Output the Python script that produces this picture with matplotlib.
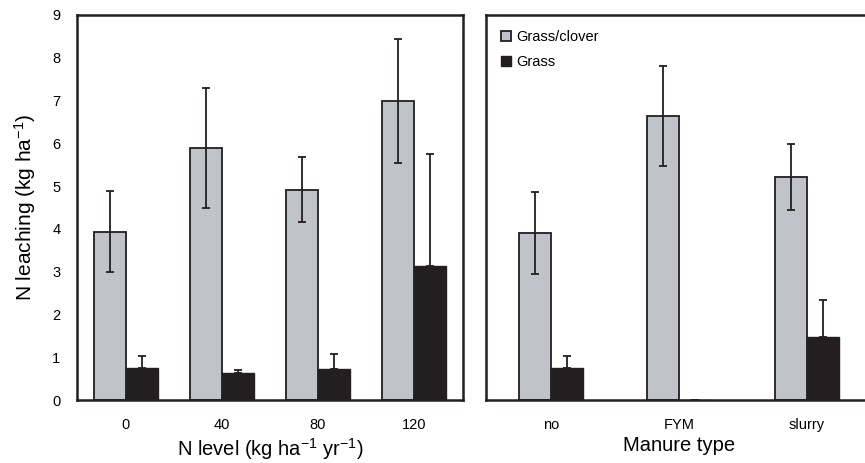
import numpy as np
import matplotlib
matplotlib.use("Agg")
import matplotlib.pyplot as plt

plt.rcParams['font.family'] = ['Liberation Sans', 'DejaVu Sans']
plt.rcParams['mathtext.default'] = 'regular'

# left panel: N level
n_levels = ['0', '40', '80', '120']
clover_n = [3.93, 5.89, 4.91, 6.99]
clover_n_err = [0.95, 1.40, 0.76, 1.45]
grass_n = [0.74, 0.62, 0.72, 3.13]
grass_n_err = [0.29, 0.08, 0.35, 2.62]

# right panel: manure type
manure = ['no', 'FYM', 'slurry']
clover_m = [3.90, 6.64, 5.21]
clover_m_err = [0.95, 1.17, 0.78]
grass_m = [0.74, 0.0, 1.48]
grass_m_err = [0.29, 0.0, 0.86]

grey = '#c0c3c9'
dark = '#231f20'

fig = plt.figure(figsize=(8.65, 4.63), dpi=100)
ax1 = fig.add_axes([0.089, 0.136, 0.446, 0.832])
ax2 = fig.add_axes([0.562, 0.136, 0.446, 0.832])


def draw(ax, cats, gc, gc_err, g, g_err, w):
    x = np.arange(len(cats))
    ekw = dict(elinewidth=1.3, capthick=1.3, ecolor='#231f20')
    ax.bar(x - w / 2, gc, w, color=grey, edgecolor='#231f20', linewidth=1.3,
           yerr=gc_err, capsize=3, error_kw=ekw, label='Grass/clover', zorder=2)
    up = [0 if v == 0 else e for v, e in zip(g, g_err)]
    ax.bar(x + w / 2, g, w, color=dark, edgecolor='#231f20', linewidth=1.0,
           yerr=[np.zeros(len(g)), up], capsize=3, error_kw=ekw,
           label='Grass', zorder=2)
    ax.set_xticks(x)
    ax.set_xticklabels(cats)
    ax.set_xlim(-0.51, len(cats) - 0.49)
    ax.set_ylim(0, 9)
    ax.tick_params(axis='x', length=0, pad=13, labelsize=10.5)
    ax.tick_params(axis='y', length=0, pad=12, labelsize=10.5)
    for s in ax.spines.values():
        s.set_linewidth(1.8)
        s.set_color('#231f20')


draw(ax1, n_levels, clover_n, clover_n_err, grass_n, grass_n_err, 0.333)
draw(ax2, manure, clover_m, clover_m_err, grass_m, grass_m_err, 0.25)

ax1.set_yticks(range(10))
ax1.set_ylabel('N leaching (kg ha$^{-1}$)', fontsize=15, labelpad=10)
ax1.set_xlabel('N level (kg ha$^{-1}$ yr$^{-1}$)', fontsize=14.5, labelpad=3)
ax2.set_yticks([])
ax2.set_xlabel('Manure type', fontsize=14.5, labelpad=3)

ax2.legend(loc='upper left', frameon=False, fontsize=10.5, handlelength=0.7,
           handleheight=0.7, handletextpad=0.3, labelspacing=0.75,
           bbox_to_anchor=(0.005, 0.995), borderaxespad=0.5)

fig.savefig('out.png', dpi=100)
